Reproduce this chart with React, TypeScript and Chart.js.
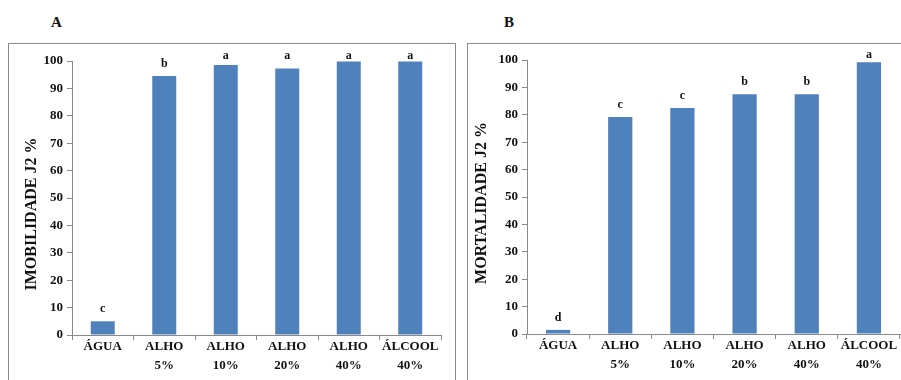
import React, { useEffect, useRef } from "react";
import { Chart, registerables } from "chart.js";

Chart.register(...registerables);

// ---------- data ----------
const categories: string[][] = [
  ["ÁGUA"],
  ["ALHO", "5%"],
  ["ALHO", "10%"],
  ["ALHO", "20%"],
  ["ALHO", "40%"],
  ["ÁLCOOL", "40%"],
];
const imobilidade: number[] = [5, 94.5, 98.5, 97.3, 99.8, 99.8];
const imobilidadeLetters: string[] = ["c", "b", "a", "a", "a", "a"];
const mortalidade: number[] = [1.5, 79.2, 82.5, 87.5, 87.5, 99.2];
const mortalidadeLetters: string[] = ["d", "c", "c", "b", "b", "a"];
const yMin = 0;
const yMax = 100;
const yStep = 10;
const titleA = "IMOBILIDADE J2 %";
const titleB = "MORTALIDADE J2 %";

// ---------- styles ----------
const SERIF = "'Liberation Serif', 'Times New Roman', serif";
const BAR = "#4F81BD";
const AXIS = "#8a8a8a";
const TEXT = "#111111";

const letterPlugin = {
  id: "letters",
  afterDatasetsDraw(chart: any, _args: any, opts: any) {
    const { ctx, chartArea } = chart;
    const meta = chart.getDatasetMeta(0);
    const letters: string[] = opts.letters || [];
    ctx.save();
    ctx.font = `bold 12px ${SERIF}`;
    ctx.fillStyle = TEXT;
    ctx.textAlign = "center";
    ctx.textBaseline = "middle";
    meta.data.forEach((bar: any, i: number) => {
      const y = Math.max(bar.y - 12, chartArea.top - 5);
      ctx.fillText(letters[i] ?? "", bar.x, y);
    });
    ctx.restore();
  },
};

type PanelProps = {
  boxLeft: number;
  boxWidth: number;
  canvasWidth: number;
  values: number[];
  letters: string[];
  title: string;
  titlePadTop: number;
  axisWidth: number;
  padTop: number;
  padRight: number;
  xAxisHeight: number;
};

const BOX_TOP = 43;
const BOX_HEIGHT = 345;
const CANVAS_HEIGHT = 343;

function Panel(p: PanelProps) {
  const ref = useRef<HTMLCanvasElement | null>(null);
  useEffect(() => {
    if (!ref.current) return;
    const chart = new Chart(ref.current, {
      type: "bar",
      data: {
        labels: categories,
        datasets: [
          {
            data: p.values,
            backgroundColor: BAR,
            borderWidth: 0,
            categoryPercentage: 1,
            barPercentage: 0.39,
          },
        ],
      },
      plugins: [letterPlugin],
      options: {
        animation: false,
        responsive: false,
        maintainAspectRatio: false,
        devicePixelRatio: 1,
        layout: { padding: { top: p.padTop, right: p.padRight, left: 0, bottom: 0 } },
        plugins: {
          legend: { display: false },
          tooltip: { enabled: false },
          letters: { letters: p.letters },
        } as any,
        scales: {
          x: {
            grid: {
              offset: true,
              drawOnChartArea: false,
              drawTicks: true,
              tickLength: 5,
              color: AXIS,
            },
            border: { display: true, color: AXIS, width: 1 },
            ticks: {
              color: TEXT,
              font: { family: SERIF, size: 13, weight: "bold", lineHeight: 1.45 },
              padding: -3,
              maxRotation: 0,
              autoSkip: false,
            },
            afterFit: (scale: any) => {
              scale.height = p.xAxisHeight;
            },
          },
          y: {
            min: yMin,
            max: yMax,
            grid: {
              drawOnChartArea: false,
              drawTicks: true,
              tickLength: 5,
              color: AXIS,
            },
            border: { display: true, color: AXIS, width: 1 },
            ticks: {
              stepSize: yStep,
              color: TEXT,
              font: { family: SERIF, size: 13, weight: "bold" },
              padding: 4,
            },
            title: {
              display: true,
              text: p.title,
              color: TEXT,
              font: { family: SERIF, size: 16, weight: "bold" },
              padding: { top: p.titlePadTop, bottom: 0 },
            },
            afterFit: (scale: any) => {
              scale.width = p.axisWidth;
            },
          },
        },
      },
    } as any);
    return () => chart.destroy();
  }, []);

  return (
    <div
      style={{
        position: "absolute",
        left: p.boxLeft,
        top: BOX_TOP,
        width: p.boxWidth,
        height: BOX_HEIGHT,
        border: "1px solid #8c8c8c",
        boxSizing: "border-box",
        background: "#fff",
        overflow: "hidden",
      }}
    >
      <canvas
        ref={ref}
        width={p.canvasWidth}
        height={CANVAS_HEIGHT}
        style={{ position: "absolute", left: 0, top: 0, width: p.canvasWidth, height: CANVAS_HEIGHT }}
      />
    </div>
  );
}

export default function App() {
  return (
    <div
      style={{
        position: "fixed",
        left: 0,
        top: 0,
        width: 901,
        height: 380,
        overflow: "hidden",
        background: "#fff",
      }}
    >
      <div
        style={{
          position: "absolute",
          left: 51,
          top: 15,
          font: `bold 15px ${SERIF}`,
          lineHeight: "15px",
          color: TEXT,
        }}
      >
        A
      </div>
      <div
        style={{
          position: "absolute",
          left: 504,
          top: 15,
          font: `bold 15px ${SERIF}`,
          lineHeight: "15px",
          color: TEXT,
        }}
      >
        B
      </div>
      <Panel
        boxLeft={8}
        boxWidth={448}
        canvasWidth={446}
        values={imobilidade}
        letters={imobilidadeLetters}
        title={titleA + "        "}
        titlePadTop={13}
        axisWidth={63}
        padTop={17}
        padRight={14}
        xAxisHeight={52}
      />
      <Panel
        boxLeft={467}
        boxWidth={500}
        canvasWidth={440}
        values={mortalidade}
        letters={mortalidadeLetters}
        title={titleB + "   "}
        titlePadTop={4}
        axisWidth={59}
        padTop={16}
        padRight={8}
        xAxisHeight={53}
      />
    </div>
  );
}
